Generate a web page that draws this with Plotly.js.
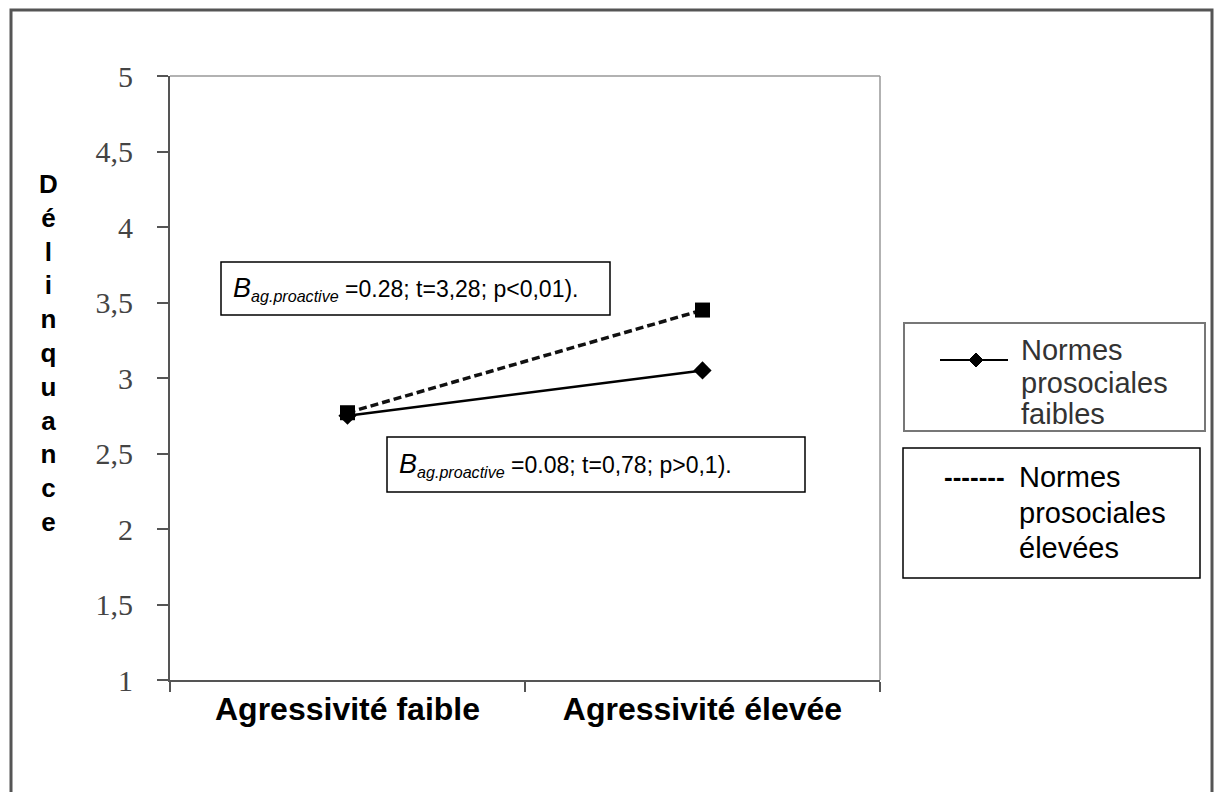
<!DOCTYPE html>
<html>
<head>
<meta charset="utf-8">
<script src="https://cdn.plot.ly/plotly-3.0.1.min.js"></script>
<style>html,body{margin:0;padding:0;background:#fff;}#chart{width:1224px;height:792px;}</style>
</head>
<body>
<div id="chart"></div>
<script>
// ---- data ----
const categories = ['Agressivité faible', 'Agressivité élevée'];
const normesFaibles = [2.75, 3.05];   // solid line, diamonds
const normesElevees = [2.77, 3.45];   // dashed line, squares
const yTickVals = [1, 1.5, 2, 2.5, 3, 3.5, 4, 4.5, 5];
const yTickText = ['1', '1,5', '2', '2,5', '3', '3,5', '4', '4,5', '5'];
const yTitleLetters = ['D', 'é', 'l', 'i', 'n', 'q', 'u', 'a', 'n', 'c', 'e'];
const annotHigh = '<i><span style="font-size:27px">B</span><sub>ag.proactive</sub></i> =0.28; t=3,28; p&lt;0,01).';
const annotLow = '<i><span style="font-size:27px">B</span><sub>ag.proactive</sub></i> =0.08; t=0,78; p&gt;0,1).';
const legendFaibles = ['Normes', 'prosociales', 'faibles'];
const legendElevees = ['Normes', 'prosociales', 'élevées'];

// ---- layout geometry (pixels -> paper) ----
const L = 170, R = 880, T = 76, B = 680;
const px = x => (x - L) / (R - L);
const py = y => (B - y) / (B - T);
const SANS = 'Liberation Sans, Arial, sans-serif';

const traces = [
  {
    x: categories, y: normesFaibles, type: 'scatter', mode: 'lines+markers',
    line: {color: '#000', width: 2.5},
    marker: {symbol: 'diamond', size: 14, color: '#000'},
    showlegend: false, cliponaxis: false
  },
  {
    x: categories, y: normesElevees, type: 'scatter', mode: 'lines+markers',
    line: {color: '#111', width: 3.5, dash: '8px,4px'},
    marker: {symbol: 'square', size: 15, color: '#000'},
    showlegend: false, cliponaxis: false
  }
];

function rect(x0, y0, x1, y1, color, width) {
  return {type: 'rect', xref: 'paper', yref: 'paper', x0: px(x0), x1: px(x1), y0: py(y1), y1: py(y0),
          line: {color: color, width: width}, fillcolor: 'rgba(0,0,0,0)', layer: 'above'};
}
function line(x0, y0, x1, y1, color, width) {
  return {type: 'line', xref: 'paper', yref: 'paper', x0: px(x0), x1: px(x1), y0: py(y0), y1: py(y1),
          line: {color: color, width: width}, layer: 'above'};
}

const shapes = [
  rect(11, 10, 1212, 800, '#555', 3),
  line(L, T, R, T, '#999', 1.5),
  line(R, T, R, B, '#999', 1.5),
  rect(221, 262, 610, 315, '#000', 1.5),
  rect(387, 437, 805, 492, '#000', 1.5),
  rect(904, 323, 1205, 431, '#777', 2),
  rect(903, 448, 1200, 578, '#000', 1.5),
  line(940, 360, 1008, 360, '#000', 2),
  {type: 'path', xref: 'paper', yref: 'paper',
   path: `M${px(976)},${py(353)} L${px(983)},${py(360)} L${px(976)},${py(367)} L${px(969)},${py(360)} Z`,
   fillcolor: '#000', line: {color: '#000', width: 1}, layer: 'above'}
];

function txt(text, x, y, size, color, opts) {
  return Object.assign({text: text, xref: 'paper', yref: 'paper', x: px(x), y: py(y),
    xanchor: 'left', yanchor: 'middle', showarrow: false,
    font: {family: SANS, size: size, color: color}}, opts || {});
}

const annotations = [
  txt(yTitleLetters.join('<br>'), 48, 353, 26, '#000',
      {xanchor: 'center', align: 'center', font: {family: SANS, size: 26, color: '#000', weight: 'bold'}}),
  txt(annotHigh, 231, 289, 23, '#000'),
  txt(annotLow, 397, 465, 23, '#000'),
  txt(legendFaibles[0], 1019, 350, 29, '#333'),
  txt(legendFaibles[1], 1019, 383, 29, '#333'),
  txt(legendFaibles[2], 1019, 414, 29, '#333'),
  txt('<b>-------</b>', 942, 477, 26, '#000'),
  txt(legendElevees[0], 1017, 477, 29, '#000'),
  txt(legendElevees[1], 1017, 513, 29, '#000'),
  txt(legendElevees[2], 1017, 548, 29, '#000')
];

const layout = {
  width: 1224, height: 792,
  margin: {l: L, r: 1224 - R, t: T, b: 792 - B, pad: 0},
  paper_bgcolor: '#fff', plot_bgcolor: '#fff',
  showlegend: false,
  xaxis: {
    type: 'category', range: [-0.5, 1.5], fixedrange: true,
    showline: true, linecolor: '#555', linewidth: 2,
    ticks: 'outside', tickson: 'boundaries', ticklen: 10, tickcolor: '#555', tickwidth: 2,
    showgrid: false, zeroline: false,
    tickfont: {family: SANS, size: 32, color: '#000', weight: 'bold'}
  },
  yaxis: {
    range: [1, 5], fixedrange: true,
    tickmode: 'array', tickvals: yTickVals, ticktext: yTickText,
    showline: true, linecolor: '#555', linewidth: 2,
    ticks: 'outside', ticklen: 11, tickcolor: '#555', tickwidth: 2,
    ticklabelstandoff: 18,
    showgrid: false, zeroline: false,
    tickfont: {family: 'Liberation Serif, Times New Roman, serif', size: 30, color: '#444'}
  },
  shapes: shapes,
  annotations: annotations
};

Plotly.newPlot('chart', traces, layout, {displayModeBar: false, staticPlot: true});
</script>
</body>
</html>
